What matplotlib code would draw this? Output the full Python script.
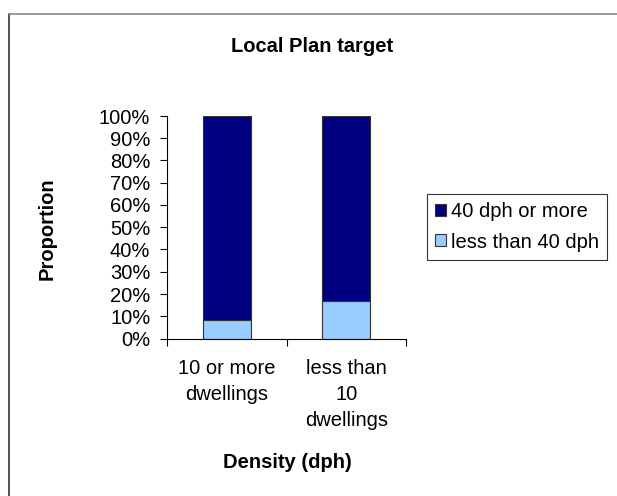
import matplotlib.pyplot as plt
from matplotlib.ticker import MultipleLocator, FuncFormatter
from matplotlib.lines import Line2D

categories = ["10 or more\ndwellings", "less than\n10\ndwellings"]
below_40 = [8.5, 17.0]
above_40 = [91.5, 83.0]
series_names = ["40 dph or more", "less than 40 dph"]

plt.rcParams['font.family'] = ['Liberation Sans', 'DejaVu Sans']
fs = 14.5

fig = plt.figure(figsize=(6.17, 4.96), dpi=100)
ax = fig.add_axes([167 / 617, 1 - 338.5 / 496, (406 - 167) / 617, (338.5 - 116) / 496])

x = range(len(categories))
b1 = ax.bar(x, below_40, width=0.4, color='#99CCFF', edgecolor='#333333', linewidth=0.8,
            label=series_names[1])
b2 = ax.bar(x, above_40, width=0.4, bottom=below_40, color='#000080', edgecolor='#333333',
            linewidth=0.8, label=series_names[0])

ax.set_xlim(-0.5, 1.5)
ax.set_ylim(0, 100)
ax.yaxis.set_major_locator(MultipleLocator(10))
ax.yaxis.set_major_formatter(FuncFormatter(lambda v, p: "{:.0f}%".format(v)))
ax.set_xticks([-0.5, 0.5, 1.5])
ax.set_xticklabels([])
ax.set_xticks([0, 1], minor=True)
ax.set_xticklabels(categories, minor=True, fontsize=fs, linespacing=1.45)
ax.tick_params(axis='x', which='minor', length=0, pad=15)
ax.tick_params(axis='x', which='major', length=5, direction='out')
ax.tick_params(axis='y', length=5, direction='out', labelsize=fs, pad=7)
for s in ['top', 'right']:
    ax.spines[s].set_visible(False)

fig.text(47 / 617, 1 - 229 / 496, "Proportion", fontsize=fs, fontweight='bold',
         rotation=90, ha='center', va='center')
fig.text(287 / 617, 1 - 462 / 496, "Density (dph)", fontsize=fs, fontweight='bold',
         ha='center', va='center')
fig.text(312 / 617, 1 - 47 / 496, "Local Plan target", fontsize=fs, fontweight='bold',
         ha='center', va='center')

leg = ax.legend(handles=[b2, b1], labels=series_names, loc='center left',
                bbox_to_anchor=(427 / 617, 1 - 227 / 496), bbox_transform=fig.transFigure,
                fontsize=fs, frameon=True, fancybox=False, edgecolor='black',
                handlelength=0.55, handleheight=0.55, handletextpad=0.25, borderpad=0.4,
                labelspacing=0.55, borderaxespad=0)
leg.get_frame().set_linewidth(0.8)

# chart border
fig.add_artist(Line2D([9 / 617, 9 / 617], [0, 1 - 14 / 496], color='#333333', lw=1.2,
                      transform=fig.transFigure))
fig.add_artist(Line2D([9 / 617, 1], [1 - 14 / 496, 1 - 14 / 496], color='#888888', lw=1.2,
                      transform=fig.transFigure))

fig.savefig('out.png', dpi=100)
